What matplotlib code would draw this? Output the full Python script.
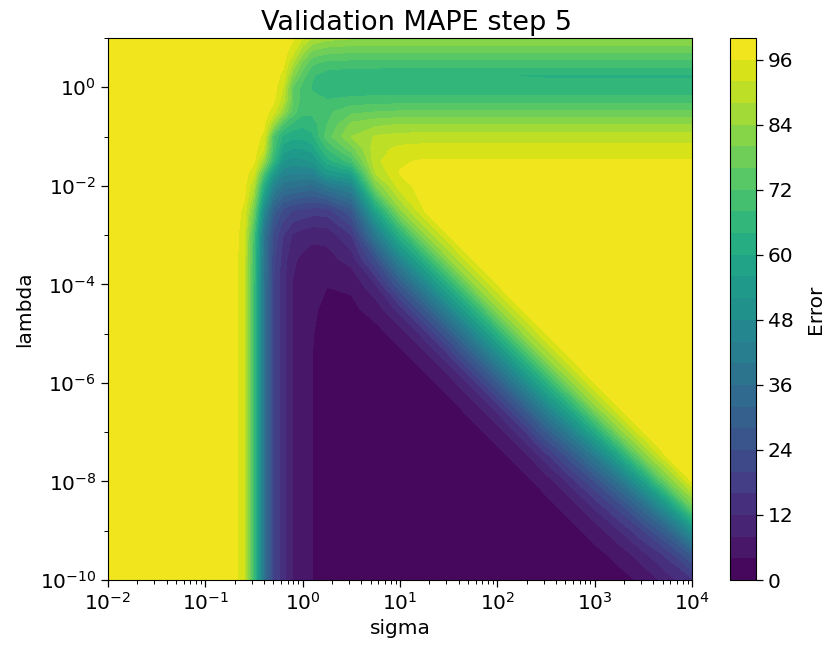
import numpy as np
import matplotlib
matplotlib.use("Agg")
import matplotlib.pyplot as plt
from matplotlib.ticker import FixedLocator, FuncFormatter

# grid positions, as log10 of sigma / lambda
log_sigma = [-2, -1, -0.7, -0.6, -0.5, -0.4, -0.3, -0.2, -0.1, 0.0, 0.1, 0.25,
             0.5, 0.75, 1.0, 1.25, 1.5, 1.75, 2.0, 2.25, 2.5, 2.75, 3.0, 3.25,
             3.5, 3.75, 4.0]
log_lambda = [-10, -9.5, -9, -8.5, -8, -7.5, -7, -6.5, -6, -5.5, -5, -4.5,
              -4, -3.5, -3, -2.5, -2, -1.75, -1.5, -1.25, -1, -0.75, -0.5,
              -0.25, 0, 0.25, 0.5, 0.75, 1.0]

# validation MAPE, one row per lambda value
mape = [
    [98.5, 98.5, 98, 92, 68, 38, 20, 13, 7.8, 5.8, 4.0, 3.0, 2.5, 2.5, 2.5, 2.5, 2.5, 2.5, 2.5, 2.5, 2.5, 2.5, 2.5, 2.8, 4.6, 10, 15],
    [98.5, 98.5, 98, 92, 68, 38, 20, 13, 7.8, 5.8, 4.0, 3.0, 2.5, 2.5, 2.5, 2.5, 2.5, 2.5, 2.5, 2.5, 2.5, 2.5, 2.8, 5.0, 10.5, 17, 28],
    [98.5, 98.5, 98, 92, 68, 38, 20, 13, 7.8, 5.8, 4.0, 3.0, 2.5, 2.5, 2.5, 2.5, 2.5, 2.5, 2.5, 2.5, 2.5, 2.8, 5.5, 11.8, 20, 31.5, 50],
    [98.5, 98.5, 98, 92, 68, 38, 20, 13, 7.8, 5.8, 4.0, 3.0, 2.5, 2.5, 2.5, 2.5, 2.5, 2.5, 2.5, 2.5, 2.8, 5.5, 13, 22, 35, 53, 78],
    [98.5, 98.5, 98, 92, 68, 38, 20, 13, 7.8, 5.8, 4.0, 3.0, 2.5, 2.5, 2.5, 2.5, 2.5, 2.5, 2.5, 2.8, 5.5, 13.5, 24, 37.5, 56, 79, 96],
    [98.5, 98.5, 98, 92, 68, 38, 20, 13, 7.8, 5.8, 4.0, 3.0, 2.5, 2.5, 2.5, 2.5, 2.5, 2.5, 2.8, 5.5, 14, 26, 40, 58, 80, 96, 98.5],
    [98.5, 98.5, 98, 92, 68, 38, 20, 13, 7.8, 5.8, 4.0, 3.0, 2.5, 2.5, 2.5, 2.5, 2.5, 2.8, 5.5, 14, 28, 42.5, 60, 81, 96, 98.5, 98.5],
    [98.5, 98.5, 98, 92, 68, 38, 20, 13, 7.8, 5.8, 4.0, 3.0, 2.5, 2.5, 2.5, 2.5, 2.8, 5.5, 14, 28, 45, 61.5, 82, 96, 98.5, 98.5, 98.5],
    [98.5, 98.5, 98, 92, 68, 38, 20, 13, 7.8, 5.8, 4.0, 3.0, 2.5, 2.5, 2.5, 2.8, 5.5, 14, 28, 45, 63, 82.5, 96, 98.5, 98.5, 98.5, 98.5],
    [98.5, 98.5, 98, 92, 68, 38, 20, 13, 7.8, 5.8, 4.0, 3.0, 2.5, 2.5, 2.8, 5.5, 14, 28, 45, 63, 83, 96, 98.5, 98.5, 98.5, 98.5, 98.5],
    [98.5, 98.5, 98, 92, 68, 38, 20, 13, 7.8, 5.8, 4.1, 3.0, 2.5, 2.8, 5.5, 14, 28, 45, 63, 83, 96, 98.5, 98.5, 98.5, 98.5, 98.5, 98.5],
    [98.5, 98.5, 98, 92, 68, 38, 20, 13, 7.8, 5.8, 4.5, 3.2, 3.2, 5.5, 14, 28, 45, 63, 83, 96, 98.5, 98.5, 98.5, 98.5, 98.5, 98.5, 98.5],
    [98.5, 98.5, 98, 92, 68, 38, 20, 13, 7.8, 6.0, 5.0, 4.1, 4.6, 12, 28, 45, 63, 83, 96, 98.5, 98.5, 98.5, 98.5, 98.5, 98.5, 98.5, 98.5],
    [98.5, 98.5, 98, 92, 69, 38.5, 21, 14, 8.5, 7.2, 6.2, 6.5, 9.5, 24, 45, 63, 83, 96, 98.5, 98.5, 98.5, 98.5, 98.5, 98.5, 98.5, 98.5, 98.5],
    [98.5, 98.5, 98, 93, 70, 39, 23, 16, 11.5, 9.8, 9.0, 9.2, 16, 40, 63, 83, 96, 98.5, 98.5, 98.5, 98.5, 98.5, 98.5, 98.5, 98.5, 98.5, 98.5],
    [98.5, 98.5, 98, 95, 78, 48, 30, 23, 20, 19, 18, 18, 27, 58, 83, 96, 98.5, 98.5, 98.5, 98.5, 98.5, 98.5, 98.5, 98.5, 98.5, 98.5, 98.5],
    [98.5, 98.5, 98, 97.5, 88, 62, 45, 38, 37, 36, 35, 40, 45, 80, 94.5, 97.5, 98.5, 98.5, 98.5, 98.5, 98.5, 98.5, 98.5, 98.5, 98.5, 98.5, 98.5],
    [98.5, 98.5, 98, 98, 93, 72, 54, 45, 44, 44, 44, 53, 57, 88, 96.2, 97.5, 97.5, 97.5, 97.5, 97.5, 97.5, 97.5, 97.5, 97.5, 97.5, 97.5, 97.5],
    [98.5, 98.5, 98, 98, 96.5, 85, 66, 52, 50, 51, 52, 62, 70, 91, 95.5, 96.5, 96.5, 96.5, 96.5, 96.5, 96.5, 96.5, 96.5, 96.5, 96.5, 96.5, 96.5],
    [98.5, 98.5, 98, 98, 98, 92, 70, 58, 56, 56, 58, 68, 78, 90.5, 93, 93.6, 93.6, 93.6, 93.6, 93.6, 93.6, 93.6, 93.6, 93.6, 93.6, 93.6, 93.6],
    [98.5, 98.5, 98, 98, 98, 95, 72, 63, 61, 61, 63, 74, 84, 88.5, 89.5, 89.8, 89.8, 89.8, 89.8, 89.8, 89.8, 89.8, 89.8, 89.8, 89.8, 89.8, 89.8],
    [98.5, 98.5, 98, 98, 98, 97, 85, 72, 67, 65, 66, 72, 81, 83, 84, 84, 84, 84, 84, 84, 84, 84, 84, 84, 84, 84, 84],
    [98.5, 98.5, 98, 98, 98, 98, 94, 84, 74, 69, 69, 71, 75, 76, 76.6, 76.6, 76.6, 76.6, 76.6, 76.6, 76.6, 76.6, 76.6, 76.6, 76.6, 76.6, 76.6],
    [98.5, 98.5, 98, 98, 98, 98, 97, 90, 76, 70, 69, 68, 69, 69.5, 69.6, 69.6, 69.6, 69.6, 69.6, 69.6, 69.6, 69.6, 69.6, 69.6, 69.6, 69.6, 69.6],
    [98.5, 98.5, 98, 98, 98, 98, 98, 92, 76, 70.5, 67.5, 65.5, 65, 64.8, 64.7, 64.6, 64.5, 64.4, 64.3, 64.3, 64.3, 64.3, 64.3, 64.3, 64.3, 64.3, 64.3],
    [98.5, 98.5, 98, 98, 98, 98, 98, 95, 82, 74, 68.5, 66, 65, 64.8, 64.5, 64.5, 64.4, 64.3, 64.2, 63.95, 63.9, 63.9, 63.9, 63.9, 63.9, 63.9, 63.9],
    [98.5, 98.5, 98, 98, 98, 98, 98, 97, 88, 79, 73, 71, 70.5, 70.5, 70.5, 70.5, 70.5, 70.5, 70.5, 70.5, 70.5, 70.5, 70.5, 70.5, 70.5, 70.5, 70.5],
    [98.5, 98.5, 98, 98, 98, 98, 98, 98, 94, 86, 80, 78, 77.2, 77.2, 77.2, 77.2, 77.2, 77.2, 77.2, 77.2, 77.2, 77.2, 77.2, 77.2, 77.2, 77.2, 77.2],
    [98.5, 98.5, 98, 98, 98, 98, 98, 98, 96.5, 92, 88, 85.5, 84.5, 84.5, 84.5, 84.5, 84.5, 84.5, 84.5, 84.5, 84.5, 84.5, 84.5, 84.5, 84.5, 84.5, 84.5],
]

levels = np.arange(0, 101, 4)
cbar_ticks = np.arange(0, 97, 12)

fig = plt.figure(figsize=(8.25, 6.48), dpi=100)
ax = fig.add_axes([108 / 825, 1 - 580 / 648, 584 / 825, 542 / 648])
cax = fig.add_axes([730 / 825, 1 - 580 / 648, 26 / 825, 542 / 648])

cs = ax.contourf(log_sigma, log_lambda, np.array(mape), levels=levels, cmap="viridis")

# log-style axes: work in log10 space so the contour edges land where they should
pow10 = FuncFormatter(lambda v, pos: r"$\mathdefault{10^{%d}}$" % round(v))
ax.set_xlim(-2, 4)
ax.set_ylim(-10, 1)
ax.xaxis.set_major_locator(FixedLocator(np.arange(-2, 5)))
ax.xaxis.set_minor_locator(FixedLocator(
    [d + np.log10(m) for d in range(-2, 4) for m in range(2, 10)]))
ax.yaxis.set_major_locator(FixedLocator(np.arange(-10, 1, 2)))
ax.yaxis.set_minor_locator(FixedLocator(np.arange(-9, 2, 2)))
ax.xaxis.set_major_formatter(pow10)
ax.yaxis.set_major_formatter(pow10)

ax.tick_params(which="major", length=5, width=0.9, labelsize=14.5)
ax.tick_params(which="minor", length=2.9, width=0.7)
ax.set_xlabel("sigma", fontsize=14.5)
ax.set_ylabel("lambda", fontsize=14.5)
ax.set_title("Validation MAPE step 5", fontsize=19.5, x=(416 - 108) / 584)

cb = fig.colorbar(cs, cax=cax)
cb.set_ticks(cbar_ticks)
cb.ax.tick_params(length=5, width=0.9, labelsize=14.5)
cb.set_label("Error", fontsize=14.5, labelpad=9)

fig.savefig("out.png", dpi=100)
